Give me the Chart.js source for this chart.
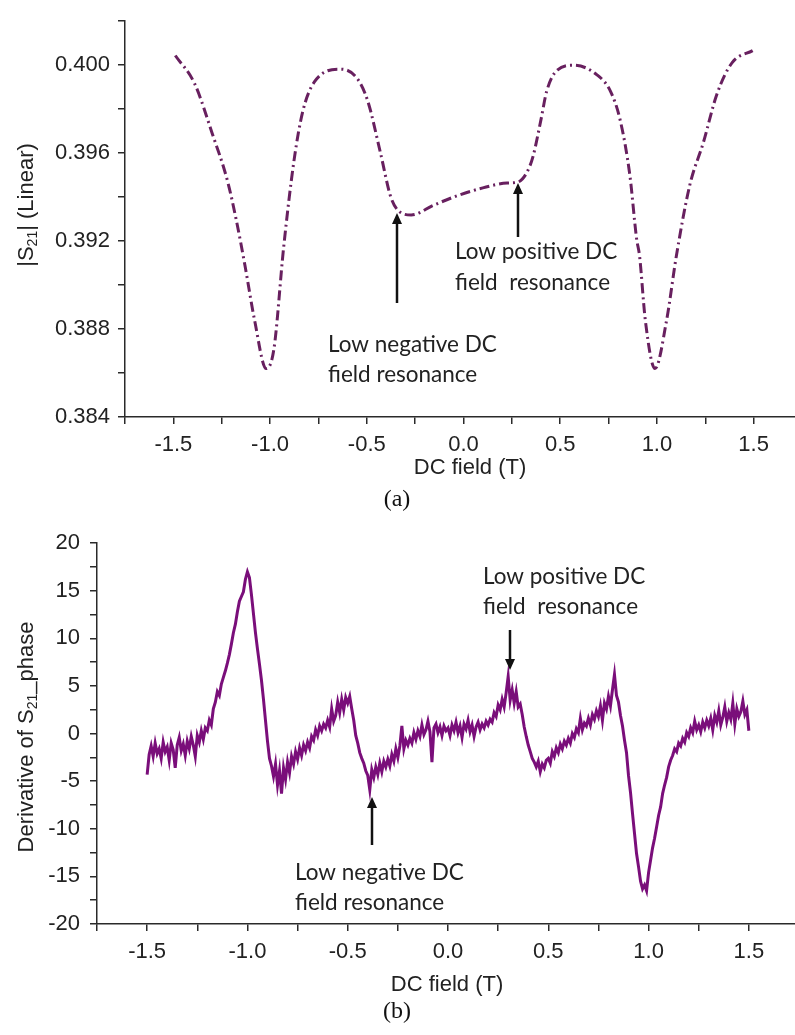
<!DOCTYPE html>
<html>
<head>
<meta charset="utf-8">
<script src="https://cdn.jsdelivr.net/npm/chart.js@4.4.1/dist/chart.umd.min.js"></script>
<style>
  html, body { margin: 0; padding: 0; background: #fff; overflow: hidden; }
  #wrap { position: relative; width: 795px; height: 1035px; overflow: hidden; background: #fff; }
  canvas { position: absolute; left: 0; }
</style>
</head>
<body>
<div id="wrap">
  <canvas id="chartA" width="810" height="520" style="top:0px"></canvas>
  <canvas id="chartB" width="810" height="515" style="top:520px"></canvas>
</div>
<script>
// (a) |S21| magnitude versus DC field
const fieldA = [-1.49, -1.39, -1.30, -1.22, -1.175, -1.13, -1.08, -1.02, -0.98, -0.93, -0.875, -0.83, -0.77,
  -0.635, -0.55, -0.495, -0.43, -0.375, -0.325, -0.27, -0.155, -0.03, 0.10, 0.225, 0.28, 0.33, 0.36, 0.40,
  0.43, 0.485, 0.57, 0.69, 0.76, 0.81, 0.86, 0.895, 0.91, 0.94, 0.99, 1.05, 1.10, 1.17, 1.24, 1.31, 1.39, 1.495];
const s21A = [0.40044, 0.39916, 0.39692, 0.39473, 0.39297, 0.3909, 0.3884, 0.3862, 0.3871, 0.3917, 0.39574, 0.39793, 0.39925,
  0.39982, 0.3994, 0.39837, 0.39604, 0.39398, 0.3933, 0.39319, 0.39363, 0.39407, 0.39442, 0.39464, 0.39468, 0.39516, 0.39587, 0.3975,
  0.39881, 0.39978, 0.4000, 0.39956, 0.39881, 0.3975, 0.3950, 0.3921, 0.39134, 0.3884, 0.3862, 0.3884, 0.3913, 0.39455, 0.39648, 0.39868, 0.40013, 0.40066];

// (b) derivative of S21 phase, sampled every 0.01 T from -1.50 T to 1.50 T
const fieldStartB = -1.50;
const fieldStepB = 0.01;
const dPhaseB = [
  -4.3, -2.2, -1.3, -2.4, -1.0, -2.1, -1.6, -2.6, -0.9, -1.9,
  -1.4, -2.8, -1.0, -1.7, -3.6, -1.2, -0.4, -1.8, -1.1, -2.3,
  -0.8, -1.6, -0.3, -1.2, -2.4, -0.2, -0.9, 0.3, -0.6, 0.6,
  0.3, 1.4, 0.9, 2.6, 3.3, 4.4, 4.0, 5.2, 5.9, 6.6,
  7.4, 8.3, 9.4, 10.6, 11.5, 12.8, 13.9, 14.4, 14.9, 16.2,
  17.0, 16.4, 14.6, 12.6, 10.6, 8.9, 7.3, 5.6, 3.6, 1.4,
  -0.8, -2.6, -3.4, -4.5, -3.2, -5.4, -3.9, -6.3, -3.6, -4.8,
  -3.0, -4.1, -2.4, -3.2, -1.9, -2.7, -1.5, -2.3, -1.2, -1.8,
  -0.9, -1.5, -0.3, -0.7, 0.4, -0.2, 0.8, 0.3, 1.0, 0.6,
  1.4, 0.7, 2.6, 1.3, 1.9, 3.3, 2.2, 3.6, 2.5, 3.8,
  3.2, 3.9, 2.6, 1.4, -0.2, -1.0, -2.0, -2.6, -3.1, -3.9,
  -4.4, -5.9, -3.8, -4.6, -3.5, -4.3, -3.1, -4.0, -2.9, -3.5,
  -2.7, -3.4, -2.2, -2.9, -1.6, -2.5, -1.3, 0.8, -1.6, -0.7,
  -1.2, -0.5, -1.0, 0.1, -0.6, 0.3, -0.3, 0.9, -0.1, 0.4,
  1.3, 0.2, -3.0, 0.6, 1.0, 0.1, 0.7, -0.2, 0.8, 0.3,
  0.6, -0.2, 0.9, 0.3, 1.2, 0.1, 0.8, -0.4, 1.0, 0.5,
  1.4, 0.2, 0.9, -0.3, 0.7, 1.2, 0.4, 1.0, 0.6, 1.3,
  0.9, 1.5, 1.2, 2.2, 1.8, 3.0, 2.5, 3.6, 2.8, 4.3,
  6.0, 3.5, 4.6, 3.2, 4.4, 2.8, 3.1, 2.0, 0.7, -0.3,
  -1.2, -1.9, -2.6, -3.0, -3.5, -2.9, -4.0, -3.2, -3.6, -2.8,
  -2.6, -3.1, -1.9, -2.4, -1.5, -2.0, -1.1, -1.6, -0.8, -1.2,
  -0.5, -1.0, 0.0, -0.4, 0.5, 0.1, 1.6, 0.4, 1.1, 0.8,
  1.6, 0.9, 2.0, 1.5, 2.4, 1.8, 2.9, 1.4, 3.2, 2.6,
  3.9, 2.9, 4.6, 6.2, 4.0, 3.3, 1.9, 0.8, -0.7, -2.0,
  -4.4, -6.2, -8.4, -10.5, -12.6, -14.0, -15.5, -16.3, -15.9, -16.5,
  -14.6, -13.3, -12.0, -11.0, -9.8, -8.6, -7.7, -6.3, -5.4, -4.6,
  -3.5, -2.8, -2.3, -1.6, -1.9, -1.0, -1.3, -0.5, -0.9, 0.1,
  -0.3, 0.6, 0.1, 1.3, 0.4, 0.9, 0.2, 1.2, 0.6, 1.4,
  0.8, 1.6, 0.4, 1.9, 1.2, 2.4, 0.9, 1.7, 2.8, 1.3,
  2.2, 1.5, 3.2, 1.0, 2.6, 1.8, 2.3, 3.4, 2.0, 2.5,
  0.3
];

// axis tick values
const fieldTicks = [-1.5, -1.0, -0.5, 0.0, 0.5, 1.0, 1.5];
const s21Ticks = [0.384, 0.388, 0.392, 0.396, 0.400];
const dPhaseTicks = [-20, -15, -10, -5, 0, 5, 10, 15, 20];

const AXIS = '#2a2a2a';
const TICK_FONT = { family: 'Liberation Sans, Arial, sans-serif', size: 22 };

function hasTick(list, v) { return list.some(t => Math.abs(t - v) < 1e-6); }

function xScale(afterHeight) {
  return {
    type: 'linear', min: -1.75, max: 1.75,
    afterFit: s => { s.height = afterHeight; },
    ticks: {
      stepSize: 0.25, autoSkip: false, maxRotation: 0, minRotation: 0,
      font: TICK_FONT, color: '#222', padding: 8,
      callback: v => hasTick(fieldTicks, v) ? v.toFixed(1) : ''
    },
    grid: { drawOnChartArea: false, drawTicks: true, tickLength: 7, color: AXIS, lineWidth: 1.5 },
    border: { color: AXIS, width: 1.5 }
  };
}

// titles, annotations and arrows drawn on top of each chart
function textLayer(id, items) {
  return {
    id,
    afterDraw(chart) {
      const ctx = chart.ctx;
      ctx.save();
      items.forEach(it => {
        if (it.kind === 'arrow') {
          ctx.strokeStyle = '#111';
          ctx.fillStyle = '#111';
          ctx.lineWidth = 2.5;
          const dir = it.tip < it.tail ? -1 : 1;
          ctx.beginPath();
          ctx.moveTo(it.x, it.tail);
          ctx.lineTo(it.x, it.tip - dir * 8);
          ctx.stroke();
          ctx.beginPath();
          ctx.moveTo(it.x, it.tip);
          ctx.lineTo(it.x - 5, it.tip - dir * 11);
          ctx.lineTo(it.x + 5, it.tip - dir * 11);
          ctx.closePath();
          ctx.fill();
        } else if (it.kind === 'vtitle') {
          // rotated title with a subscript part
          ctx.translate(it.x, it.y);
          ctx.rotate(-Math.PI / 2);
          ctx.fillStyle = '#222';
          ctx.textBaseline = 'middle';
          ctx.textAlign = 'left';
          const big = '22px "Liberation Sans", Arial, sans-serif';
          const small = '14px "Liberation Sans", Arial, sans-serif';
          let total = 0;
          it.parts.forEach(p => { ctx.font = p.sub ? small : big; total += ctx.measureText(p.t).width; });
          let cx = -total / 2;
          it.parts.forEach(p => {
            ctx.font = p.sub ? small : big;
            ctx.fillText(p.t, cx, p.sub ? 6 : 0);
            cx += ctx.measureText(p.t).width;
          });
          ctx.setTransform(1, 0, 0, 1, 0, 0);
        } else {
          ctx.fillStyle = it.color || '#222';
          ctx.font = it.font;
          ctx.textAlign = it.align || 'left';
          ctx.textBaseline = 'middle';
          ctx.fillText(it.t, it.x, it.y);
        }
      });
      ctx.restore();
    }
  };
}

const NOTE_FONT = '22.5px Lato, "Open Sans", sans-serif';
const AXIS_TITLE_FONT = '22px "Liberation Sans", Arial, sans-serif';
const PANEL_FONT = '24px "Liberation Serif", "Times New Roman", serif';

new Chart(document.getElementById('chartA'), {
  type: 'line',
  data: {
    datasets: [{
      data: fieldA.map((x, i) => ({ x, y: s21A[i] })),
      borderColor: '#68205f',
      borderWidth: 3,
      borderDash: [10, 4, 2, 4],
      pointRadius: 0,
      cubicInterpolationMode: 'monotone',
      fill: false
    }]
  },
  options: {
    responsive: false, animation: false,
    layout: { padding: { top: 7, right: 6, left: 0, bottom: 0 } },
    plugins: { legend: { display: false }, tooltip: { enabled: false } },
    scales: {
      x: xScale(103),
      y: {
        min: 0.384, max: 0.402,
        afterFit: s => { s.width = 125; },
        ticks: {
          stepSize: 0.002, autoSkip: false, font: TICK_FONT, color: '#222', padding: 8,
          callback: v => hasTick(s21Ticks, v) ? v.toFixed(3) : ''
        },
        grid: { drawOnChartArea: false, drawTicks: true, tickLength: 7, color: AXIS, lineWidth: 1.5 },
        border: { color: AXIS, width: 1.5 }
      }
    }
  },
  plugins: [textLayer('notesA', [
    { kind: 'vtitle', x: 27, y: 205, parts: [{ t: '|S' }, { t: '21', sub: true }, { t: '| (Linear)' }] },
    { t: 'DC field (T)', x: 470, y: 468, font: AXIS_TITLE_FONT, align: 'center' },
    { t: '(a)', x: 397, y: 500, font: PANEL_FONT, align: 'center', color: '#111' },
    { t: 'Low positive DC', x: 455, y: 252, font: NOTE_FONT },
    { t: 'field  resonance', x: 455, y: 283, font: NOTE_FONT },
    { t: 'Low negative DC', x: 328, y: 345, font: NOTE_FONT },
    { t: 'field resonance', x: 328, y: 375, font: NOTE_FONT },
    { kind: 'arrow', x: 518, tail: 237, tip: 183 },
    { kind: 'arrow', x: 397, tail: 303, tip: 213 }
  ])]
});

new Chart(document.getElementById('chartB'), {
  type: 'line',
  data: {
    datasets: [{
      data: dPhaseB.map((y, i) => ({ x: fieldStartB + i * fieldStepB, y })),
      borderColor: '#7a0e7a',
      borderWidth: 3,
      pointRadius: 0,
      tension: 0,
      fill: false
    }]
  },
  options: {
    responsive: false, animation: false,
    layout: { padding: { top: 16, right: 11, left: 0, bottom: 0 } },
    plugins: { legend: { display: false }, tooltip: { enabled: false } },
    scales: {
      x: xScale(111),
      y: {
        min: -20, max: 20,
        afterFit: s => { s.width = 97; },
        ticks: {
          stepSize: 2.5, autoSkip: false, font: TICK_FONT, color: '#222', padding: 10,
          callback: v => hasTick(dPhaseTicks, v) ? String(v) : ''
        },
        grid: { drawOnChartArea: false, drawTicks: true, tickLength: 7, color: AXIS, lineWidth: 1.5 },
        border: { color: AXIS, width: 1.5 }
      }
    }
  },
  plugins: [textLayer('notesB', [
    { kind: 'vtitle', x: 27, y: 217, parts: [{ t: 'Derivative of S' }, { t: '21', sub: true }, { t: '_phase' }] },
    { t: 'DC field (T)', x: 447, y: 465, font: AXIS_TITLE_FONT, align: 'center' },
    { t: '(b)', x: 397, y: 492, font: PANEL_FONT, align: 'center', color: '#111' },
    { t: 'Low positive DC', x: 483, y: 57, font: NOTE_FONT },
    { t: 'field  resonance', x: 483, y: 87, font: NOTE_FONT },
    { t: 'Low negative DC', x: 295, y: 353, font: NOTE_FONT },
    { t: 'field resonance', x: 295, y: 383, font: NOTE_FONT },
    { kind: 'arrow', x: 510, tail: 110, tip: 150 },
    { kind: 'arrow', x: 372, tail: 325, tip: 277 }
  ])]
});
</script>
</body>
</html>
